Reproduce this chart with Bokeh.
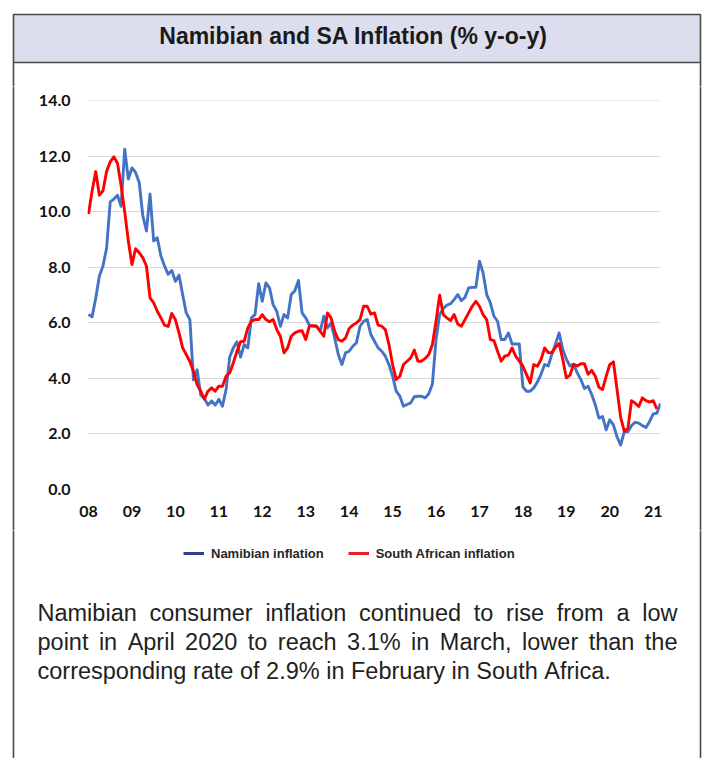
from bokeh.plotting import figure
from bokeh.layouts import column, row
from bokeh.models import (Range1d, FixedTicker, Legend, LegendItem,
                          PrintfTickFormatter, ColumnDataSource)
from bokeh.core.properties import value
from bokeh.embed import file_html
from bokeh.resources import INLINE

# ---------------- data (monthly, % y-o-y) ----------------
START_YEAR = 2008
namibia = [
    6.3, 6.22, 6.9, 7.69, 8.05, 8.7, 10.36, 10.46, 10.6, 10.2, 12.26, 11.18,
    11.58, 11.42, 11.06, 9.86, 9.31, 10.64, 8.95, 9.07, 8.41, 8.05, 7.75, 7.89,
    7.5, 7.72, 7.02, 6.36, 6.12, 3.95, 4.31, 3.4, 3.28, 3.04, 3.19, 3.04,
    3.25, 3.0, 3.6, 4.77, 5.1, 5.32, 4.77, 5.22, 5.1, 6.18, 6.3, 7.41,
    6.78, 7.44, 7.26, 6.66, 6.42, 5.88, 6.3, 6.18, 7.02, 7.16, 7.53, 6.36,
    6.18, 5.92, 5.88, 5.88, 5.7, 6.24, 5.82, 6.0, 5.46, 4.86, 4.5, 4.92,
    4.98, 5.16, 5.28, 5.88, 6.06, 6.12, 5.58, 5.34, 5.1, 4.98, 4.8, 4.5,
    4.08, 3.54, 3.36, 3.0, 3.06, 3.12, 3.34, 3.36, 3.36, 3.3, 3.45, 3.8,
    5.4, 6.3, 6.52, 6.64, 6.69, 6.84, 7.02, 6.8, 6.92, 7.26, 7.28, 7.28,
    8.22, 7.8, 7.02, 6.72, 6.24, 6.06, 5.4, 5.4, 5.64, 5.24, 5.24, 5.24,
    3.69, 3.54, 3.54, 3.66, 3.87, 4.15, 4.5, 4.45, 4.87, 5.24, 5.64, 5.05,
    4.69, 4.45, 4.51, 4.2, 3.96, 3.64, 3.72, 3.42, 3.05, 2.57, 2.63, 2.15,
    2.51, 2.33, 1.9, 1.6, 2.08, 2.08, 2.3, 2.42, 2.39, 2.3, 2.23, 2.45,
    2.72, 2.75, 3.1,
]
south_africa = [
    9.92, 10.76, 11.45, 10.6, 10.76, 11.46, 11.8, 11.98, 11.75, 10.95, 10.0, 8.95,
    8.1, 8.67, 8.53, 8.35, 8.05, 6.9, 6.72, 6.42, 6.18, 5.92, 5.87, 6.34,
    6.12, 5.64, 5.1, 4.86, 4.61, 4.25, 3.78, 3.54, 3.25, 3.54, 3.66, 3.54,
    3.72, 3.72, 4.08, 4.2, 4.56, 4.98, 5.32, 5.34, 5.82, 6.06, 6.12, 6.12,
    6.3, 6.12, 6.04, 6.12, 5.76, 5.52, 4.92, 5.1, 5.52, 5.64, 5.7, 5.72,
    5.4, 5.88, 5.9, 5.88, 5.7, 5.52, 6.36, 6.18, 5.7, 5.4, 5.34, 5.46,
    5.8, 5.92, 6.0, 6.12, 6.6, 6.6, 6.32, 6.36, 5.92, 5.88, 5.76, 5.22,
    4.5, 3.96, 4.08, 4.5, 4.62, 4.74, 5.02, 4.62, 4.62, 4.72, 4.86, 5.22,
    6.06, 7.0, 6.3, 6.18, 6.08, 6.3, 5.96, 5.88, 6.12, 6.36, 6.6, 6.78,
    6.6, 6.3, 6.12, 5.4, 5.36, 4.98, 4.62, 4.8, 4.84, 5.1, 4.8, 4.62,
    4.44, 4.14, 3.84, 4.5, 4.44, 4.68, 5.1, 4.93, 4.93, 5.12, 5.26, 4.69,
    4.02, 4.12, 4.51, 4.45, 4.53, 4.53, 4.15, 4.29, 4.08, 3.68, 3.6, 4.08,
    4.5, 4.6, 3.6, 2.6, 2.1, 2.2, 3.2, 3.11, 2.99, 3.3, 3.2, 3.15,
    3.2, 2.9,
]
tick_years = list(range(2008, 2022))
tick_labels = ["08", "09", "10", "11", "12", "13", "14", "15", "16", "17",
               "18", "19", "20", "21"]
y_ticks = [0, 2, 4, 6, 8, 10, 12, 14]
series_names = ["Namibian inflation", "South African inflation"]
title_text = "Namibian and SA Inflation (% y-o-y)"
paragraph = [
    "Namibian consumer inflation continued to rise from a low",
    "point in April 2020 to reach 3.1% in March, lower than the",
    "corresponding rate of 2.9% in February in South Africa.",
]

nam_x = [START_YEAR + i / 12 for i in range(len(namibia))]
sa_x = [START_YEAR + i / 12 for i in range(len(south_africa))]

# ---------------- page geometry ----------------
PW, PH = 702, 758
A_H = 86                      # title strip height
B_TOP, B_BOT = 86, 530        # chart strip (page y)
STRIP = 16                    # side strips carrying the frame border
BL, BR, BT = 13, 700, 14      # outer border lines
BAND_BOT = 62
FL, FT, FW, FH = 87, 100, 573, 389   # plot frame in page px
BORDER = "#4a4a4a"
BW = 1.6

X0 = START_YEAR - 0.28 / 12
X1 = X0 + (FW / 3.62) / 12


def no_align(f):
    if "frame_align" in f.properties():
        f.frame_align = False
    return f


def blank(w, h, xr, yr):
    f = figure(width=w, height=h, x_range=Range1d(*xr), y_range=Range1d(*yr),
               output_backend="svg", toolbar_location=None,
               x_axis_location=None, y_axis_location=None, min_border=0)
    f.outline_line_color = None
    f.grid.visible = False
    f.background_fill_color = "white"
    f.border_fill_color = "white"
    return no_align(f)


# ---- A: title band ----
fa = blank(PW, A_H, (0, PW), (A_H, 0))
fa.quad(left=[BL], right=[BR], top=[BT], bottom=[BAND_BOT], fill_color="#dcdeee",
        line_color=BORDER, line_width=BW)
fa.segment(x0=[BL, BR], y0=[BAND_BOT, BAND_BOT], x1=[BL, BR], y1=[A_H, A_H],
           line_color=BORDER, line_width=BW)
fa.text(x=[353], y=[35], text=[title_text], text_font=value("Liberation Sans"),
        text_font_style="bold", text_font_size="23px", text_color="#1a1a1a",
        text_align="center", text_baseline="middle")

# ---- B: chart ----
BH = B_BOT - B_TOP
BWID = PW - 2 * STRIP
fb = figure(width=BWID, height=BH, output_backend="svg", toolbar_location=None,
            x_range=Range1d(X0, X1), y_range=Range1d(0, 14.01),
            min_border_left=FL - STRIP, min_border_top=FT - B_TOP,
            min_border_right=BWID - (FL - STRIP) - FW,
            min_border_bottom=BH - (FT - B_TOP) - FH)
no_align(fb)
fb.outline_line_color = None
fb.background_fill_color = "white"
fb.border_fill_color = "white"
fb.xgrid.grid_line_color = None
fb.ygrid.grid_line_color = "#d9d9d9"
fb.ygrid.grid_line_width = 1.2
fb.yaxis.ticker = FixedTicker(ticks=y_ticks)
fb.yaxis.formatter = PrintfTickFormatter(format="%.1f")
fb.xaxis.ticker = FixedTicker(ticks=tick_years)
fb.xaxis.major_label_overrides = {y: lab for y, lab in zip(tick_years, tick_labels)}
for ax in (fb.xaxis, fb.yaxis):
    ax.axis_line_color = None
    ax.major_tick_line_color = None
    ax.minor_tick_line_color = None
    ax.major_tick_out = 0
    ax.major_tick_in = 0
    ax.major_label_text_font = "Lato"
    ax.major_label_text_font_style = "bold"
    ax.major_label_text_font_size = "16px"
    ax.major_label_text_color = "#111111"
fb.yaxis.major_label_standoff = 17
fb.xaxis.major_label_standoff = 16

fb.line(nam_x, namibia, line_color="#4472C4", line_width=2.9, line_join="round")
fb.line(sa_x, south_africa, line_color="#FF0000", line_width=2.9, line_join="round")

# side strips with border lines
sl = blank(STRIP, BH, (0, STRIP), (B_BOT, B_TOP))
sl.segment(x0=[BL], y0=[B_TOP - 2], x1=[BL], y1=[B_BOT + 2], line_color=BORDER,
           line_width=BW)
sr = blank(STRIP, BH, (PW - STRIP, PW), (B_BOT, B_TOP))
sr.segment(x0=[BR], y0=[B_TOP - 2], x1=[BR], y1=[B_BOT + 2], line_color=BORDER,
           line_width=BW)

# ---- C: legend + paragraph ----
CH = PH - B_BOT
fc = blank(PW, CH, (0, PW), (PH, B_BOT))
fc.segment(x0=[BL, BR], y0=[B_BOT - 2, B_BOT - 2], x1=[BL, BR], y1=[PH + 5, PH + 5],
           line_color=BORDER, line_width=BW)

# legend swatches: hidden copies of the series (outside this panel's ranges)
rn = fc.line(nam_x[:2], namibia[:2], line_color="#2E3F92", line_width=3, visible=False)
rs = fc.line(sa_x[:2], south_africa[:2], line_color="#EE1C25", line_width=3,
             visible=False)
LEG_X, LEG_TOP, LEG_H = 183, 543, 20
legend = Legend(items=[LegendItem(label=series_names[0], renderers=[rn]),
                       LegendItem(label=series_names[1], renderers=[rs])],
                location=(LEG_X, PH - LEG_TOP - LEG_H), click_policy="none",
                orientation="horizontal", glyph_width=21, glyph_height=LEG_H,
                label_height=LEG_H, label_standoff=7, spacing=24, padding=0,
                margin=0, border_line_alpha=0, background_fill_alpha=0,
                inactive_fill_alpha=0,
                label_text_font="Liberation Sans", label_text_font_style="bold",
                label_text_font_size="13px", label_text_color="#262626")
fc.add_layout(legend, "center")

# paragraph (justified lines, Liberation Sans = Arial metrics)
AW = {' ': 278, 'N': 722, 'a': 556, 'm': 833, 'i': 222, 'b': 556, 'n': 556,
      'c': 500, 'o': 556, 's': 500, 'u': 556, 'e': 556, 'r': 333, 'f': 278,
      'l': 222, 't': 278, 'd': 556, 'w': 722, 'p': 556, 'A': 667, '2': 556,
      '0': 556, '3': 556, '.': 278, '1': 556, '%': 889, 'M': 833, 'h': 556,
      ',': 278, 'y': 500, 'g': 556, 'F': 611, 'S': 667, '9': 556, 'v': 500}
FS = 23.5


def tw(s):
    return sum(AW.get(ch, 556) for ch in s) / 1000 * FS


PL, PR = 37, 677
wx, wy, wt = [], [], []
for k, (line, yc) in enumerate(zip(paragraph, [612, 641, 670])):
    words = line.split()
    if k < len(paragraph) - 1:
        gap = (PR - PL - sum(tw(w) for w in words)) / (len(words) - 1)
    else:
        gap = tw(" ")
    xp = PL
    for w in words:
        wx.append(xp)
        wy.append(yc)
        wt.append(w)
        xp += tw(w) + gap
fc.text(x="x", y="y", text="t", source=ColumnDataSource(dict(x=wx, y=wy, t=wt)),
        text_font=value("Liberation Sans"), text_font_size=f"{FS}px",
        text_color="#231f20", text_align="left", text_baseline="middle")

layout = column(fa, row(column(sl), fb, column(sr)), fc)
open("out.html", "w").write(file_html(layout, INLINE))
